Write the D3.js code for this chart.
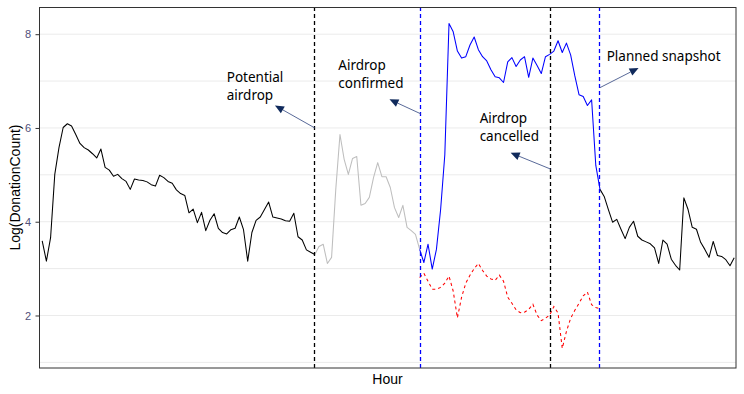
<!DOCTYPE html>
<html>
<head>
<meta charset="UTF-8" />
<title>Donations around the airdrop</title>
<script src="https://d3js.org/d3.v7.min.js"></script>
<style>
body {
    margin: 0px;
    background: white;
}
svg {
    display: block;
    font-family: "Liberation Sans", Arial, sans-serif;
}
</style>
</head>
<body>
<svg id="chart" width="744" height="394"></svg>
<script>
// hourly log(donation count), hour 0 .. 165
const hours = d3.range(166);
const logCount = [
    3.59, 3.16, 3.66, 5.01, 5.58, 6.01, 6.09, 6.04, 5.86, 5.67,
    5.58, 5.53, 5.45, 5.36, 5.55, 5.16, 5.10, 4.97, 5.01, 4.92,
    4.86, 4.69, 4.91, 4.89, 4.88, 4.85, 4.79, 4.76, 4.99, 4.94,
    4.86, 4.82, 4.68, 4.60, 4.56, 4.19, 4.27, 3.98, 4.20, 3.81,
    4.03, 4.17, 3.86, 3.77, 3.74, 3.83, 3.86, 4.10, 3.83, 3.16,
    3.77, 4.03, 4.10, 4.26, 4.42, 4.10, 4.08, 4.06, 4.02, 4.01,
    4.18, 3.68, 3.61, 3.40, 3.35, 3.30,
    // potential airdrop -> confirmed
    3.47, 3.52, 3.11, 3.24, 4.69, 5.86, 5.33, 5.01, 5.35, 5.39,
    4.35, 4.39, 4.52, 4.94, 5.26, 4.96, 4.96, 4.73, 4.30, 4.09,
    4.35, 3.88, 3.81, 3.73,
    // confirmed -> snapshot
    3.41, 3.13, 3.52, 2.99, 3.41, 4.26, 5.43, 8.23, 8.05, 7.64,
    7.49, 7.52, 7.77, 7.94, 7.67, 7.52, 7.43, 7.24, 7.09, 7.07,
    6.97, 7.41, 7.50, 7.31, 7.45, 7.52, 7.08, 7.49, 7.33, 7.16,
    7.52, 7.57, 7.64, 7.86, 7.61, 7.81, 7.56, 7.11, 6.71, 6.67,
    6.48, 6.60, 5.20, 4.69,
    // after snapshot
    4.54, 4.26, 3.99, 4.05, 3.84, 3.64, 3.88, 4.01, 3.69, 3.61,
    3.57, 3.53, 3.44, 3.11, 3.61, 3.52, 3.20, 3.07, 2.97, 4.51,
    4.26, 3.88, 3.84, 3.56, 3.41, 3.24, 3.58, 3.28, 3.26, 3.19,
    3.06, 3.23
];

// red dashed series, hours 90 .. 133
const baselineStart = 90;
const baseline = [
    2.81, 2.90, 2.73, 2.56, 2.56, 2.60, 2.69, 2.84, 2.52, 1.95,
    2.39, 2.69, 2.86, 3.00, 3.11, 2.96, 2.84, 2.78, 2.75, 2.86,
    2.73, 2.39, 2.26, 2.12, 2.06, 2.07, 2.13, 2.24, 2.01, 1.89,
    1.94, 2.01, 2.19, 2.05, 1.30, 1.66, 1.94, 2.11, 2.26, 2.42,
    2.50, 2.23, 2.17, 2.14
];

// hours where the line changes colour
const periodBreaks = [65, 90, 133];
const eventHours = [65, 90.3, 121.3, 133];
const eventLabels = [
    ["Potential", "airdrop"],
    ["Airdrop", "confirmed"],
    ["Airdrop", "cancelled"],
    ["Planned snapshot"]
];
const yTicks = [2, 4, 6, 8];
const yMinor = [1, 3, 5, 7];

let svg = d3.select("#chart");
let panel = {left: 39, right: 736, top: 7, bottom: 368};

let x = d3.scaleLinear().domain([0, 165]).range([42.2, 734.2]);
let y = d3.scaleLinear().domain([0.88, 8.58]).range([panel.bottom, panel.top]);

// grid
svg.append("g")
    .selectAll("line")
    .data(yTicks.concat(yMinor))
    .join("line")
    .attr("x1", panel.left).attr("x2", panel.right)
    .attr("y1", d => y(d)).attr("y2", d => y(d))
    .attr("stroke", "#ebebeb")
    .attr("stroke-width", 1);

// main series, split in periods
let periodColors = ["#000000", "#bebebe", "#0000ff", "#000000"];
let bounds = [0].concat(periodBreaks, [hours.length - 1]);
let line = d3.line()
    .x(i => x(hours[i]))
    .y(i => y(logCount[i]));

for (let p = 0; p < bounds.length - 1; p++) {
    svg.append("path")
        .attr("d", line(d3.range(bounds[p], bounds[p + 1] + 1)))
        .attr("fill", "none")
        .attr("stroke", periodColors[p])
        .attr("stroke-width", 1.05)
        .attr("stroke-linejoin", "round");
}

// dashed red series
let redLine = d3.line()
    .x((d, i) => x(baselineStart + i))
    .y(d => y(d));
svg.append("path")
    .attr("d", redLine(baseline))
    .attr("fill", "none")
    .attr("stroke", "#ff0000")
    .attr("stroke-width", 1.05)
    .attr("stroke-dasharray", "3,3");

// event lines, snapped to whole pixels
let eventColors = ["#000000", "#0000ff", "#000000", "#0000ff"];
svg.append("g")
    .selectAll("line")
    .data(eventHours)
    .join("line")
    .attr("x1", d => Math.floor(x(d)) + 0.5).attr("x2", d => Math.floor(x(d)) + 0.5)
    .attr("y1", panel.top).attr("y2", panel.bottom)
    .attr("stroke", (d, i) => eventColors[i])
    .attr("stroke-width", 1.3)
    .attr("stroke-dasharray", "4,3");

// annotations: text anchor, arrow start on the event line, arrow tip (data units)
let notes = [
    {tx: 44.0, ty: 6.97, sy: 6.00, hx: 55.5, hy: 6.48},
    {tx: 70.6, ty: 7.24, sy: 6.30, hx: 82.8, hy: 6.61},
    {tx: 104.3, ty: 6.10, sy: 5.12, hx: 111.7, hy: 5.47},
    {tx: 134.6, ty: 7.43, sy: 6.86, hx: 142.2, hy: 7.28}
];

notes.forEach((n, i) => {
    let x0 = x(eventHours[i]), y0 = y(n.sy);
    let x1 = x(n.hx), y1 = y(n.hy);
    let ang = Math.atan2(y1 - y0, x1 - x0);
    let len = 9, half = 4;
    let bx = x1 - len * Math.cos(ang), by = y1 - len * Math.sin(ang);

    svg.append("line")
        .attr("x1", x0).attr("y1", y0)
        .attr("x2", bx).attr("y2", by)
        .attr("stroke", "#3b4f86")
        .attr("stroke-opacity", 0.85)
        .attr("stroke-width", 1);

    let pts = [
        [x1, y1],
        [bx + half * Math.sin(ang), by - half * Math.cos(ang)],
        [bx - half * Math.sin(ang), by + half * Math.cos(ang)]
    ];
    svg.append("path")
        .attr("d", "M" + pts.map(p => p.join(",")).join("L") + "Z")
        .attr("fill", "#102a5c");

    let t = svg.append("text")
        .attr("x", x(n.tx))
        .attr("y", y(n.ty))
        .attr("font-family", "'Noto Sans', 'Open Sans', sans-serif")
        .attr("font-size", "13.5px")
        .attr("fill", "#000");
    eventLabels[i].forEach((s, k) => {
        t.append("tspan")
            .attr("x", x(n.tx))
            .attr("dy", k == 0 ? 0 : 18)
            .text(s);
    });
});

// y axis
let yAxis = d3.axisLeft(y)
    .tickValues(yTicks)
    .tickSize(3.5)
    .tickPadding(4.5)
    .tickFormat(d3.format("d"));
let gy = svg.append("g")
    .attr("transform", `translate(${panel.left},0)`)
    .call(yAxis);
gy.select(".domain").remove();
gy.selectAll(".tick line").attr("stroke", "#333333");
gy.selectAll(".tick text")
    .attr("font-family", "'Liberation Sans', Arial, sans-serif")
    .attr("font-size", "11px")
    .attr("fill", "#50507a");

// panel border
svg.append("rect")
    .attr("x", panel.left + 0.5).attr("y", panel.top + 0.5)
    .attr("width", panel.right - panel.left - 0.5)
    .attr("height", panel.bottom - panel.top - 0.5)
    .attr("fill", "none")
    .attr("stroke", "#333333")
    .attr("stroke-width", 1);

// axis titles
svg.append("text")
    .attr("x", (panel.left + panel.right) / 2)
    .attr("y", 384)
    .attr("text-anchor", "middle")
    .attr("font-size", "14px")
    .attr("fill", "#000")
    .text("Hour");

svg.append("text")
    .attr("transform", `translate(19.5,${(panel.top + panel.bottom) / 2}) rotate(-90)`)
    .attr("text-anchor", "middle")
    .attr("font-size", "14px")
    .attr("fill", "#000")
    .text("Log(DonationCount)");
</script>
</body>
</html>
